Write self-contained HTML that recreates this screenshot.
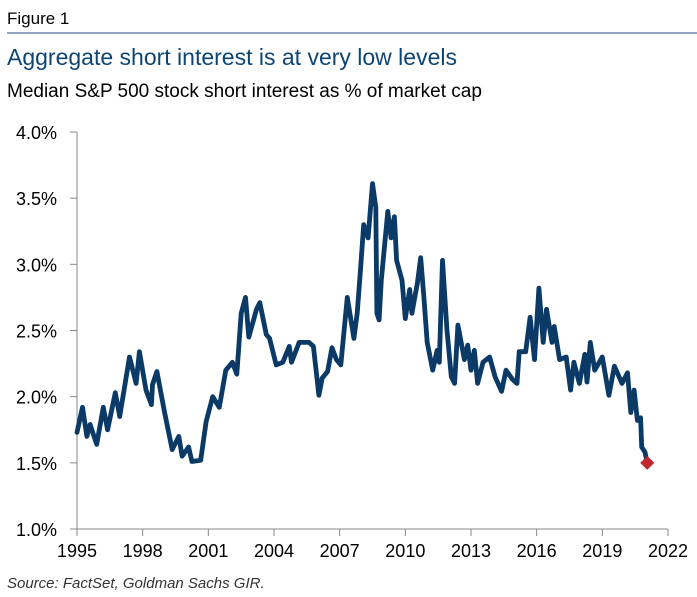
<!DOCTYPE html>
<html><head><meta charset="utf-8"><style>
body{margin:0;background:#fff;width:697px;height:597px;overflow:hidden;font-family:"Liberation Sans",Arial,sans-serif}
svg{display:block}
</style></head><body>
<svg width="697" height="597" id="svg">
<text x="7" y="24" font-size="17" fill="#000">Figure 1</text>
<line x1="7" y1="33" x2="697" y2="33" stroke="#6b87a8" stroke-width="1.5"/>
<text x="7" y="65" font-size="23" fill="#0e4573">Aggregate short interest is at very low levels</text>
<text x="7" y="97" font-size="19" fill="#000">Median S&amp;P 500 stock short interest as % of market cap</text>
<text x="7" y="588" font-size="15" font-style="italic" fill="#333">Source: FactSet, Goldman Sachs GIR.</text>
<g id="axes"></g>
<g id="plot"></g>
</svg>
<script>
const yTicks=[1.0,1.5,2.0,2.5,3.0,3.5,4.0];
const xTicks=[1995,1998,2001,2004,2007,2010,2013,2016,2019,2022];
const years=[1995.0,1995.25,1995.45,1995.6,1995.9,1996.2,1996.4,1996.75,1996.95,1997.4,1997.7,1997.85,1998.15,1998.4,1998.45,1998.65,1999.0,1999.35,1999.65,1999.8,2000.1,2000.25,2000.65,2000.9,2001.2,2001.5,2001.8,2002.1,2002.3,2002.5,2002.7,2002.85,2003.2,2003.35,2003.65,2003.8,2004.1,2004.4,2004.7,2004.8,2005.15,2005.6,2005.8,2006.05,2006.2,2006.45,2006.65,2006.85,2007.05,2007.35,2007.65,2007.8,2007.95,2008.1,2008.3,2008.5,2008.65,2008.7,2008.8,2008.9,2009.2,2009.35,2009.5,2009.6,2009.85,2010.0,2010.2,2010.3,2010.55,2010.7,2010.85,2011.0,2011.25,2011.45,2011.55,2011.7,2011.9,2012.1,2012.25,2012.4,2012.7,2012.85,2013.0,2013.15,2013.3,2013.55,2013.85,2014.1,2014.4,2014.6,2014.9,2015.1,2015.2,2015.5,2015.7,2015.9,2016.1,2016.3,2016.45,2016.7,2016.8,2017.05,2017.35,2017.55,2017.7,2017.95,2018.2,2018.3,2018.45,2018.65,2019.0,2019.3,2019.55,2019.9,2020.15,2020.3,2020.45,2020.6,2020.75,2020.8,2020.95];
const values=[1.73,1.92,1.70,1.79,1.64,1.92,1.75,2.03,1.85,2.30,2.10,2.34,2.05,1.94,2.09,2.19,1.88,1.60,1.70,1.55,1.62,1.51,1.52,1.81,2.00,1.92,2.20,2.26,2.17,2.63,2.75,2.45,2.66,2.71,2.47,2.44,2.24,2.26,2.38,2.26,2.41,2.41,2.38,2.01,2.14,2.19,2.37,2.28,2.24,2.75,2.44,2.63,2.96,3.30,3.20,3.61,3.43,2.63,2.58,2.88,3.40,3.20,3.36,3.03,2.88,2.59,2.81,2.63,2.86,3.05,2.75,2.41,2.20,2.35,2.26,3.03,2.51,2.15,2.10,2.54,2.28,2.39,2.20,2.35,2.10,2.26,2.30,2.15,2.04,2.20,2.13,2.10,2.34,2.34,2.60,2.28,2.82,2.41,2.66,2.41,2.53,2.28,2.30,2.05,2.26,2.10,2.32,2.11,2.41,2.20,2.30,2.01,2.23,2.10,2.18,1.88,2.05,1.82,1.84,1.62,1.58];
const lastYear=[2021.05];
const lastValue=[1.50];
const NS="http://www.w3.org/2000/svg";
const X0=77,X1=668,Y0=529,Y1=132;
const xS=y=>X0+(y-1995)/(2022-1995)*(X1-X0);
const yS=v=>Y0-(v-1)/(4-1)*(Y0-Y1);
function mk(t,a,p){const e=document.createElementNS(NS,t);for(const k in a)e.setAttribute(k,a[k]);p.appendChild(e);return e;}
const ax=document.getElementById('axes'),pl=document.getElementById('plot');
const ya=mk('line',{x1:X0,y1:Y1,x2:X0,y2:Y0,stroke:'#888','stroke-width':1},ax);


const xa=mk('line',{x1:X0,y1:Y0,x2:X1,y2:Y0,stroke:'#888','stroke-width':1},ax);


yTicks.forEach(v=>{
 const tk=mk('line',{x1:X0-7,y1:yS(v),x2:X0,y2:yS(v),stroke:'#888'},ax);
 
 
 const t=mk('text',{x:57,y:yS(v)+7,'font-size':18,'text-anchor':'end',fill:'#000'},ax);
 t.textContent=v.toFixed(1)+'%';
 
 
});
xTicks.forEach(y=>{
 const tk=mk('line',{x1:xS(y),y1:Y0,x2:xS(y),y2:Y0+7,stroke:'#888'},ax);
 
 
 const t=mk('text',{x:xS(y),y:Y0+28,'font-size':18,'text-anchor':'middle',fill:'#000'},ax);
 t.textContent=y;
 
 
});
const pts=years.map((y,i)=>xS(y).toFixed(1)+','+yS(values[i]).toFixed(1));
pts.push(xS(lastYear[0]).toFixed(1)+','+yS(lastValue[0]).toFixed(1));
const ln=mk('polyline',{points:pts.join(' '),fill:'none',stroke:'#0b3a66','stroke-width':4.8,'stroke-linejoin':'round','stroke-linecap':'round'},pl);


const dx=xS(lastYear[0]),dy=yS(lastValue[0]);
const d=mk('polygon',{points:`${dx},${dy-7} ${dx+7},${dy} ${dx},${dy+7} ${dx-7},${dy}`,fill:'#c0262d'},pl);


</script>
</body></html>
